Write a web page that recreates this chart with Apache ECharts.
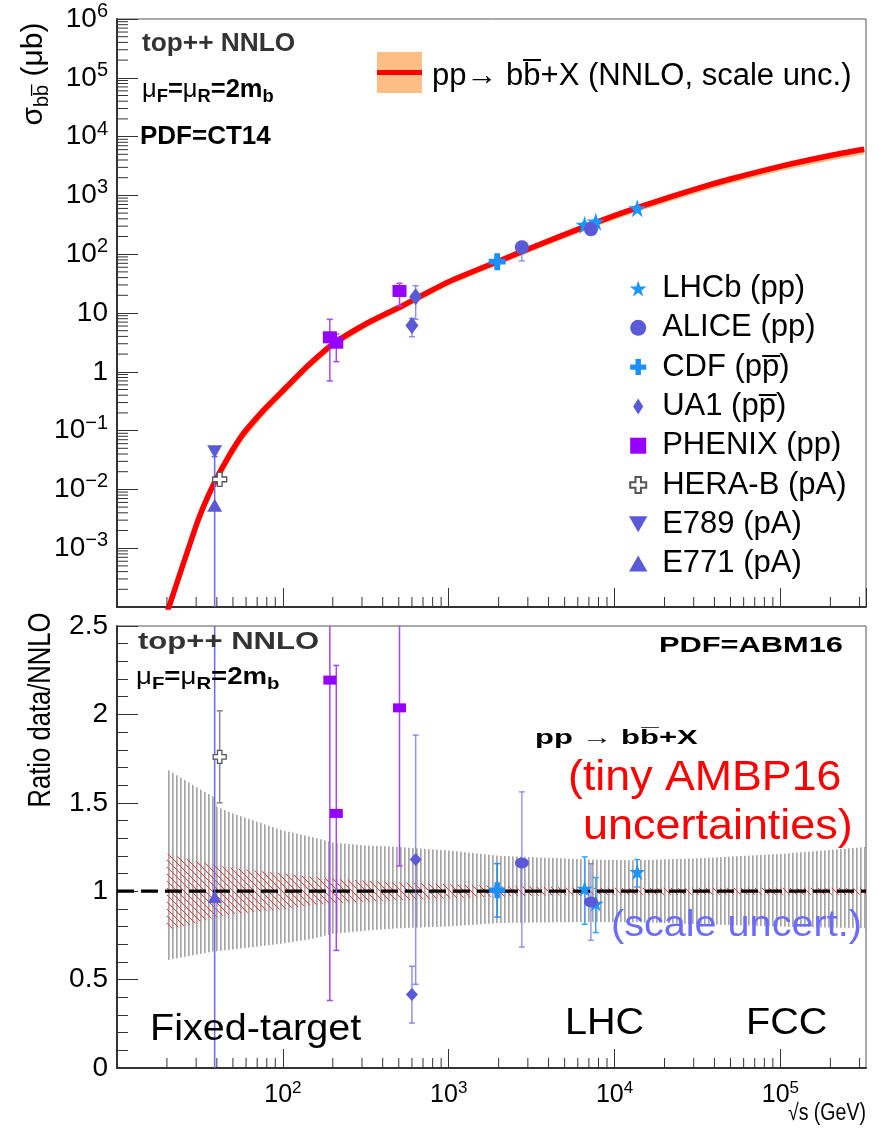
<!DOCTYPE html>
<html><head><meta charset="utf-8">
<script src="https://cdn.jsdelivr.net/npm/echarts@6/dist/echarts.min.js"></script>
<style>html,body{margin:0;padding:0;background:#fff}#c{width:879px;height:1132px}</style>
</head><body><div id="c"></div>
<script>
// ---------------- data ----------------
// NNLO theory curve (top panel): sqrt(s) [GeV], sigma [ub], scale band
const thS     = [20, 30, 34.2, 39.4, 47.9, 58, 76.9, 101, 143, 203, 322, 512, 1000, 1960, 3560, 7460, 14000, 30000, 50000, 100000, 200000, 320000];
const thSigma = [7.9e-5, 2.43e-3, 6.2e-3, 0.0145, 0.0393, 0.090, 0.2255, 0.49, 1.30, 3.05, 6.7, 12.8, 34.0, 74.5, 148, 335, 631, 1258, 1901, 3120, 4764, 6085];
const thHi    = [1.05e-4, 3.1e-3, 7.8e-3, 0.0182, 0.048, 0.110, 0.270, 0.58, 1.52, 3.5, 7.6, 14.3, 37.5, 81, 160, 358, 670, 1325, 1990, 3250, 4950, 6320];
const thLo    = [5.6e-5, 1.85e-3, 4.75e-3, 0.0113, 0.0305, 0.072, 0.182, 0.405, 1.09, 2.6, 5.8, 11.0, 29.5, 64.5, 127, 286, 535, 1060, 1590, 2590, 3930, 4990];

// ratio panel bands
const ratS    = [20, 30, 38.8, 40, 50, 100, 150, 200, 300, 500, 1000, 2000, 7000, 13000, 30000, 100000, 328000];
const scaleHi = [1.69, 1.59, 1.53, 1.477, 1.44, 1.344, 1.307, 1.275, 1.26, 1.25, 1.23, 1.20, 1.18, 1.175, 1.185, 1.21, 1.25];
const scaleLo = [0.61, 0.64, 0.66, 0.66, 0.67, 0.704, 0.73, 0.76, 0.775, 0.79, 0.80, 0.82, 0.826, 0.825, 0.815, 0.80, 0.79];
const pdfHi   = [1.213, 1.17, 1.15, 1.145, 1.13, 1.10, 1.08, 1.07, 1.06, 1.05, 1.04, 1.03, 1.02, 1.02, 1.02, 1.02, 1.02];
const pdfLo   = [0.779, 0.82, 0.85, 0.855, 0.87, 0.90, 0.92, 0.93, 0.94, 0.95, 0.96, 0.97, 0.98, 0.98, 0.98, 0.98, 0.98];
const refLineX = [10, 328000];
const refLineY = [1, 1];

// experiments
const lhcbX = [6600, 7700, 13700];
const lhcbSig = [314, 357, 603], lhcbSigLo = [285, 325, 560], lhcbSigHi = [345, 390, 650];
const lhcbRat = [1.015, 0.93, 1.109], lhcbRatLo = [0.813, 0.766, 1.024], lhcbRatHi = [1.194, 1.077, 1.179];

const aliceX = [2760, 7200];
const aliceSig = [131, 266], aliceSigLo = [77, 225], aliceSigHi = [165, 310];
const aliceRat = [1.16, 0.939], aliceRatLo = [0.684, 0.722], aliceRatHi = [1.562, 1.156];

const cdfX = [1960];
const cdfSig = [74.5], cdfSigLo = [65], cdfSigHi = [85];
const cdfRat = [1.005], cdfRatLo = [0.854], cdfRatHi = [1.156];

const ua1X = [600, 632];
const ua1Sig = [6.1, 18.9], ua1SigLo = [3.95, 7.8], ua1SigHi = [8.1, 29];
const ua1Rat = [0.416, 1.179], ua1RatLo = [0.254, 0.473], ua1RatHi = [0.575, 1.883];

const phenixX = [192, 210, 505];
const phenixSig = [3.86, 3.13, 23.7], phenixSigLo = [0.70, 1.49, 13.2], phenixSigHi = [7.8, 4.4, 32];
const phenixRat = [2.194, 1.44, 2.037], phenixRatLo = [0.382, 0.665, 1.143], phenixRatHi = [3.5, 2.277, 3.5];

const herabX = [41.6];
const herabSig = [0.0148], herabSigLo = [0.0125], herabSigHi = [0.0175];
const herabRat = [1.76], herabRatLo = [1.50], herabRatHi = [2.02];

const e789X = [38.8];
const e789Sig = [0.0438], e789SigLo = [0.036], e789SigHi = [0.052];

const e771X = [38.8];
const e771Sig = [0.0054], e771SigLo = [1e-6], e771SigHi = [0.0438];
const e771Rat = [0.967], e771RatLo = [-1], e771RatHi = [3.5];

const legendNames = ['LHCb (pp)', 'ALICE (pp)', 'CDF (pp\u0305)', 'UA1 (pp\u0305)', 'PHENIX (pp)', 'HERA-B (pA)', 'E789 (pA)', 'E771 (pA)'];

// ---------------- styling helpers ----------------
const FONT = '"Liberation Sans", Arial, Helvetica, sans-serif';
const X_MIN = 10, X_MAX = 328000;

const STAR = 'path://M50 0 L61.8 36.2 L100 36.2 L69.1 58.8 L80.9 95.1 L50 72.7 L19.1 95.1 L30.9 58.8 L0 36.2 L38.2 36.2 Z';
const PLUS = 'path://M33 0 H67 V33 H100 V67 H67 V100 H33 V67 H0 V33 H33 Z';
const TRI_DN = 'path://M0 0 L100 0 L50 87 Z';
const TRI_UP = 'path://M50 0 L100 87 L0 87 Z';
const DIAM = 'path://M50 0 L100 80 L50 160 L0 80 Z';
const SQR = 'path://M0 0 H100 V100 H0 Z';

function makeVPattern() {
  const c = document.createElement('canvas'); c.width = 4; c.height = 4;
  const g = c.getContext('2d'); g.fillStyle = '#a6a6a6'; g.fillRect(0, 0, 1.7, 4);
  return { type: 'pattern', image: c, repeat: 'repeat' };
}
function makeDPattern() {
  const c = document.createElement('canvas'); c.width = 7; c.height = 7;
  const g = c.getContext('2d'); g.strokeStyle = '#ff3030'; g.lineWidth = 1;
  g.beginPath(); g.moveTo(-1, -1); g.lineTo(8, 8); g.stroke();
  return { type: 'pattern', image: c, repeat: 'repeat' };
}

function logExp(v) { const l = Math.log10(v); const e = Math.round(l); return Math.abs(l - e) < 1e-6 ? e : null; }
function yTopFmt(v) {
  const e = logExp(v);
  if (e === null || e < -3 || e > 6) return '';
  if (e === 0) return '{b|1}';
  if (e === 1) return '{b|10}';
  return '{b|10}{s|' + (e < 0 ? '\u2212' + (-e) : e) + '}';
}
function xFmt(v) {
  const e = logExp(v);
  if (e === null || e < 2 || e > 5) return '';
  return '{b|10}{s|' + e + '}';
}

function bandRender(xs, hi, lo, fill) {
  return function (params, api) {
    const pts = [];
    for (let i = 0; i < xs.length; i++) pts.push(api.coord([xs[i], hi[i]]));
    for (let i = xs.length - 1; i >= 0; i--) pts.push(api.coord([xs[i], lo[i]]));
    const cs = params.coordSys;
    return { type: 'polygon', shape: { points: pts }, style: { fill: fill, stroke: null },
      clipPath: { type: 'rect', shape: { x: cs.x, y: cs.y, width: cs.width, height: cs.height } } };
  };
}
function errRender(params, api) {
  const x = api.value(0), lo = api.value(1), hi = api.value(2);
  const cs = params.coordSys;
  const p1 = api.coord([x, lo]), p2 = api.coord([x, hi]);
  const top0 = cs.y, bot0 = cs.y + cs.height;
  let yT = p2[1], yB = p1[1];
  const capT = yT >= top0, capB = yB <= bot0;
  yT = Math.max(yT, top0); yB = Math.min(yB, bot0);
  const col = api.visual('color');
  const st = { stroke: col, lineWidth: 1.5 };
  const ch = [{ type: 'line', shape: { x1: p1[0], y1: yB, x2: p1[0], y2: yT }, style: st }];
  if (capT) ch.push({ type: 'line', shape: { x1: p1[0] - 3, y1: yT, x2: p1[0] + 3, y2: yT }, style: st });
  if (capB) ch.push({ type: 'line', shape: { x1: p1[0] - 3, y1: yB, x2: p1[0] + 3, y2: yB }, style: st });
  return { type: 'group', children: ch };
}
function minorXRender(len) {
  return function (params, api) {
    const x = api.coord([api.value(0), api.value(1)])[0];
    const cs = params.coordSys; const yb = cs.y + cs.height;
    return { type: 'line', shape: { x1: x, y1: yb, x2: x, y2: yb - len }, style: { stroke: '#333', lineWidth: 1 } };
  };
}
function minorYRender(len) {
  return function (params, api) {
    const y = api.coord([api.value(0), api.value(1)])[1];
    const cs = params.coordSys;
    return { type: 'line', shape: { x1: cs.x, y1: y, x2: cs.x + len, y2: y }, style: { stroke: '#333', lineWidth: 1 } };
  };
}

// minor tick values (axis furniture)
const minorX = [], minorY = [];
[10, 100, 1000, 10000, 100000].forEach(d => [2, 3, 4, 5, 6, 7, 8, 9].forEach(m => { if (d * m <= X_MAX) minorX.push(d * m); }));
[1e-4, 1e-3, 1e-2, 1e-1, 1, 10, 100, 1e3, 1e4, 1e5].forEach(d => [2, 3, 4, 5, 6, 7, 8, 9].forEach(m => minorY.push(d * m)));

// ---------------- experiments table built from arrays ----------------
const exps = [
  { name: legendNames[0], X: lhcbX, s: lhcbSig, sl: lhcbSigLo, sh: lhcbSigHi, r: lhcbRat, rl: lhcbRatLo, rh: lhcbRatHi,
    symbol: STAR, size: 18, rsize: 16, color: '#1996ff', ecol: '#3da2ff' },
  { name: legendNames[1], X: aliceX, s: aliceSig, sl: aliceSigLo, sh: aliceSigHi, r: aliceRat, rl: aliceRatLo, rh: aliceRatHi,
    symbol: 'circle', size: 14, rsize: [14, 11], color: '#5a5ad8', ecol: 'rgba(110,110,225,0.7)' },
  { name: legendNames[2], X: cdfX, s: cdfSig, sl: cdfSigLo, sh: cdfSigHi, r: cdfRat, rl: cdfRatLo, rh: cdfRatHi,
    symbol: PLUS, size: 17, rsize: 16, color: '#1a8fff', ecol: '#1a8fff' },
  { name: legendNames[3], X: ua1X, s: ua1Sig, sl: ua1SigLo, sh: ua1SigHi, r: ua1Rat, rl: ua1RatLo, rh: ua1RatHi,
    symbol: DIAM, size: [13, 17], rsize: [12, 13], color: '#5a5ad8', ecol: 'rgba(110,110,225,0.75)' },
  { name: legendNames[4], X: phenixX, s: phenixSig, sl: phenixSigLo, sh: phenixSigHi, r: phenixRat, rl: phenixRatLo, rh: phenixRatHi,
    symbol: SQR, size: [14, 12], rsize: [13, 9], color: '#9500ff', ecol: '#a347ff' },
  { name: legendNames[5], X: herabX, s: herabSig, sl: herabSigLo, sh: herabSigHi, r: herabRat, rl: herabRatLo, rh: herabRatHi,
    symbol: PLUS, size: 14, rsize: 13, color: '#ffffff', border: '#555', ecol: '#888' },
  { name: legendNames[6], X: e789X, s: e789Sig, sl: e789SigLo, sh: e789SigHi, r: null,
    symbol: TRI_DN, size: [15, 13], rsize: [14, 12], color: '#5a5ad8', ecol: '#6a6ae6' },
  { name: legendNames[7], X: e771X, s: e771Sig, sl: e771SigLo, sh: e771SigHi, r: e771Rat, rl: e771RatLo, rh: e771RatHi,
    symbol: TRI_UP, size: [15, 13], rsize: [14, 12], color: '#5a5ad8', ecol: '#6a6ae6' }
];

const series = [];
// top panel theory band + line
series.push({ type: 'custom', xAxisIndex: 0, yAxisIndex: 0, silent: true, z: 1,
  renderItem: bandRender(thS, thHi, thLo, '#ffbe85'), data: [[thS[0], thSigma[0]]] });
series.push({ type: 'line', name: 'NNLO', xAxisIndex: 0, yAxisIndex: 0, silent: true, z: 2, smooth: 0.25,
  showSymbol: false, lineStyle: { color: '#ff0000', width: 5.5 }, data: thS.map((s, i) => [s, thSigma[i]]) });

// ratio panel bands
series.push({ type: 'custom', xAxisIndex: 1, yAxisIndex: 1, silent: true, z: 1,
  renderItem: bandRender(ratS, scaleHi, scaleLo, makeVPattern()), data: [[ratS[0], 1]] });
series.push({ type: 'custom', xAxisIndex: 1, yAxisIndex: 1, silent: true, z: 1,
  renderItem: bandRender(ratS, pdfHi, pdfLo, makeDPattern()), data: [[ratS[0], 1]] });
series.push({ type: 'line', xAxisIndex: 1, yAxisIndex: 1, silent: true, z: 2, showSymbol: false,
  lineStyle: { color: '#000', width: 3.2, type: [17, 7] }, data: refLineX.map((x, i) => [x, refLineY[i]]) });

// error bars
const errTop = [], errBot = [];
exps.forEach(e => {
  e.X.forEach((x, i) => {
    errTop.push({ value: [x, e.sl[i], e.sh[i]], itemStyle: { color: e.ecol } });
    if (e.r) errBot.push({ value: [x, e.rl[i], e.rh[i]], itemStyle: { color: e.ecol } });
  });
});
series.push({ type: 'custom', xAxisIndex: 0, yAxisIndex: 0, silent: true, z: 3, renderItem: errRender, data: errTop });
series.push({ type: 'custom', xAxisIndex: 1, yAxisIndex: 1, silent: true, z: 3, renderItem: errRender, data: errBot });

// markers
exps.forEach(e => {
  const ist = { color: e.color, opacity: 1 };
  if (e.border) { ist.borderColor = e.border; ist.borderWidth = 1.3; }
  series.push({ type: 'scatter', name: e.name, xAxisIndex: 0, yAxisIndex: 0, z: 5, symbol: e.symbol, symbolSize: e.size,
    itemStyle: ist, data: e.X.map((x, i) => [x, e.s[i]]) });
  if (e.r) series.push({ type: 'scatter', name: e.name, xAxisIndex: 1, yAxisIndex: 1, z: 5, symbol: e.symbol, symbolSize: e.rsize,
    itemStyle: ist, data: e.X.map((x, i) => [x, e.r[i]]) });
});

// minor ticks
series.push({ type: 'custom', xAxisIndex: 0, yAxisIndex: 0, silent: true, z: 6, renderItem: minorXRender(10), data: minorX.map(v => [v, 1]) });
series.push({ type: 'custom', xAxisIndex: 1, yAxisIndex: 1, silent: true, z: 6, renderItem: minorXRender(10), data: minorX.map(v => [v, 1]) });
series.push({ type: 'custom', xAxisIndex: 0, yAxisIndex: 0, silent: true, z: 6, renderItem: minorYRender(11), data: minorY.map(v => [100, v]) });

// ---------------- axes ----------------
const axisLineStyle = { show: true, lineStyle: { color: '#333', width: 2 } };
const xRich = { b: { fontSize: 25, fontFamily: FONT, color: '#000' }, s: { fontSize: 17, fontFamily: FONT, color: '#000', padding: [0, 0, 14, 0] } };
const yRich = { b: { fontSize: 28, fontFamily: FONT, color: '#000' }, s: { fontSize: 20, fontFamily: FONT, color: '#000', padding: [0, 0, 15, 0] } };

const xAxis = [
  { gridIndex: 0, type: 'log', logBase: 10, min: X_MIN, max: X_MAX, splitNumber: 10,
    axisLine: axisLineStyle, axisTick: { show: true, inside: true, length: 19, lineStyle: { color: '#333' } },
    axisLabel: { show: false }, splitLine: { show: false } },
  { gridIndex: 1, type: 'log', logBase: 10, min: X_MIN, max: X_MAX, splitNumber: 10,
    axisLine: axisLineStyle, axisTick: { show: true, inside: true, length: 19, lineStyle: { color: '#333' } },
    axisLabel: { show: true, margin: 12, formatter: xFmt, rich: xRich, showMinLabel: false, showMaxLabel: false },
    splitLine: { show: false } }
];
const yAxis = [
  { gridIndex: 0, type: 'log', logBase: 10, min: 1.0001e-4, max: 1e6, splitNumber: 10,
    axisLine: axisLineStyle, axisTick: { show: true, inside: true, length: 21, lineStyle: { color: '#333' } },
    axisLabel: { show: true, margin: 9, formatter: yTopFmt, rich: yRich }, splitLine: { show: false } },
  { gridIndex: 1, type: 'value', min: 0, max: 2.5, interval: 0.5,
    axisLine: axisLineStyle, axisTick: { show: true, inside: true, length: 21, lineStyle: { color: '#333' } },
    minorTick: { show: true, splitNumber: 5, length: 11, lineStyle: { color: '#333' } },
    axisLabel: { show: true, margin: 9, fontSize: 28, fontFamily: FONT, color: '#000' }, splitLine: { show: false } }
];

// ---------------- annotations ----------------
function txt(x, y, text, o) {
  o = o || {};
  const style = { text: text, x: 0, y: 0, fill: o.color || '#000', fontSize: o.size || 20, fontFamily: FONT,
    fontWeight: o.bold ? 'bold' : 'normal', align: o.align || 'left', textAlign: o.align || 'left',
    verticalAlign: 'middle', textVerticalAlign: 'middle' };
  if (o.rich) style.rich = o.rich;
  return { type: 'text', x: x, y: y, rotation: o.rot || 0, scaleX: o.sx || 1, silent: true, z: 100, style: style };
}
function muRich(m, s) {
  return { m: { fontSize: m, fontFamily: FONT, fontWeight: 'bold', fill: '#000', color: '#000' },
           g: { fontSize: m, fontFamily: FONT, fontWeight: 'normal', fill: '#000', color: '#000' },
           s: { fontSize: s, fontFamily: FONT, fontWeight: 'bold', fill: '#000', color: '#000', padding: [Math.round(m * 0.55), 0, 0, 0] } };
}
const MU = '{g|\u03bc}{s|F}{m|=}{g|\u03bc}{s|R}{m|=2m}{s|b}';
const graphic = [
  // top panel
  txt(142, 44, 'top++ NNLO', { size: 25, bold: true, color: '#333', sx: 1.05 }),
  txt(142, 90, MU, { rich: muRich(25, 18), sx: 1.02 }),
  txt(140, 137, 'PDF=CT14', { size: 25, bold: true, sx: 1.04 }),
  { type: 'rect', shape: { x: 377, y: 52, width: 45, height: 41 }, style: { fill: '#ffbe85' }, silent: true, z: 100 },
  { type: 'line', shape: { x1: 377, y1: 72.5, x2: 422, y2: 72.5 }, style: { stroke: '#ff0000', lineWidth: 5 }, silent: true, z: 101 },
  txt(432, 76, 'pp\u2192 bb\u0305+X (NNLO, scale unc.)', { size: 31 }),
  // y titles
  txt(34, 74, '{m|\u03c3}{s|bb\u0305}{m| (\u03bcb)}', { rot: Math.PI / 2, align: 'center',
    rich: { m: { fontSize: 30, fontFamily: FONT, color: '#000' }, s: { fontSize: 20, fontFamily: FONT, color: '#000', padding: [16, 0, 0, 0] } } }),
  txt(41, 710, 'Ratio data/NNLO', { size: 32, rot: Math.PI / 2, align: 'center', sx: 0.8 }),
  // bottom panel
  txt(138, 643, 'top++ NNLO', { size: 23, bold: true, color: '#333', sx: 1.35 }),
  txt(136, 678, MU, { rich: muRich(23, 17), sx: 1.2 }),
  txt(659, 646, 'PDF=ABM16', { size: 22, bold: true, sx: 1.4 }),
  txt(535, 738, 'pp \u2192 bb\u0305+X', { size: 20, bold: true, sx: 1.55 }),
  txt(568, 778, '(tiny AMBP16', { size: 42, color: '#ff0000', sx: 1.065 }),
  txt(583, 827, 'uncertainties)', { size: 42, color: '#ff0000', sx: 1.07 }),
  txt(611, 926, '(scale uncert.)', { size: 37, color: '#6b6bff', sx: 1.07 }),
  txt(150, 1030, 'Fixed-target', { size: 36, sx: 1.1 }),
  txt(565, 1024, 'LHC', { size: 36, sx: 1.1 }),
  txt(746, 1024, 'FCC', { size: 36, sx: 1.1 }),
  txt(866, 1114, '\u221as (GeV)', { size: 23, align: 'right', sx: 0.85 })
];

const option = {
  animation: false,
  backgroundColor: '#fff',
  grid: [
    { left: 117, top: 19, width: 749, height: 588, show: true, borderColor: '#555', borderWidth: 1, backgroundColor: 'transparent' },
    { left: 117, top: 626, width: 749, height: 442, show: true, borderColor: '#555', borderWidth: 1, backgroundColor: 'transparent' }
  ],
  xAxis: xAxis,
  yAxis: yAxis,
  legend: {
    orient: 'vertical', left: 624, top: 268, itemWidth: 38, itemHeight: 16, itemGap: 8.3, selectedMode: false,
    symbolKeepAspect: true,
    data: legendNames, textStyle: { fontSize: 31, fontFamily: FONT, color: '#000', lineHeight: 30 }
  },
  series: series,
  graphic: graphic
};

const chart = echarts.init(document.getElementById('c'), null, { renderer: 'canvas' });
chart.setOption(option);
</script>
</body></html>
